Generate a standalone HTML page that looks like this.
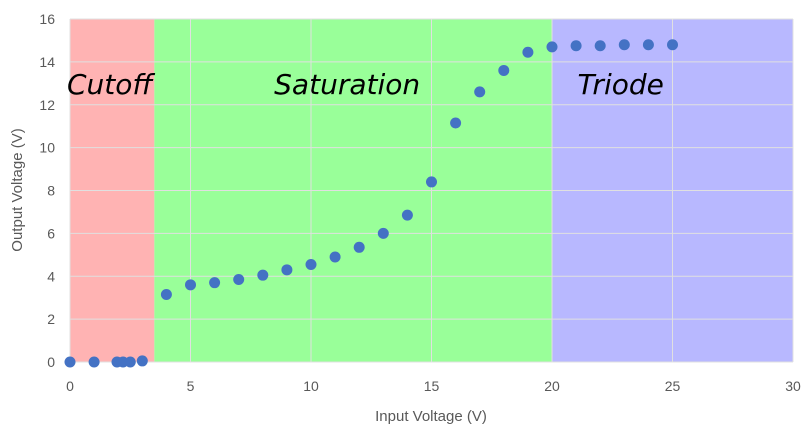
<!DOCTYPE html>
<html><head><meta charset="utf-8"><style>
body{margin:0;background:#fff;}
svg{display:block;font-family:"Liberation Sans",sans-serif;}
</style></head><body>
<svg id="chart" width="806" height="448"></svg>
<script>
const xData=[0,1,1.95,2.2,2.5,3,4,5,6,7,8,9,10,11,12,13,14,15,16,17,18,19,20,21,22,23,24,25];
const yData=[0,0,0,0,0,0.05,3.15,3.6,3.7,3.85,4.05,4.3,4.55,4.9,5.35,6,6.85,8.4,11.15,12.6,13.6,14.45,14.7,14.75,14.75,14.8,14.8,14.8];
const xTicks=[0,5,10,15,20,25,30];
const yTicks=[0,2,4,6,8,10,12,14,16];
const regionStarts=[0,3.5,20];
const regionEnds=[3.5,20,30];
const regionLabels=["Cutoff","Saturation","Triode"];
const regionLabelX=[1.65,11.5,22.85];
const regionColors=["#ffb3b3","#99ff99","#b8b8ff"];
const NS="http://www.w3.org/2000/svg";
const svg=document.getElementById('chart');
const X=v=>70+v*(793-70)/30;
const Y=v=>362-v*(362-19)/16;
function mk(t,a){const e=document.createElementNS(NS,t);for(const k in a)e.setAttribute(k,a[k]);svg.appendChild(e);return e;}
regionStarts.forEach((s,i)=>{
 const r=mk('rect',{x:X(s),y:Y(16),width:X(regionEnds[i])-X(s),height:Y(0)-Y(16),fill:regionColors[i]});
 
 
});
xTicks.forEach(t=>{
 const l=mk('line',{x1:X(t),x2:X(t),y1:Y(0),y2:Y(16),stroke:'#e0e0e0','stroke-width':1});
 
 
 const tx=mk('text',{x:X(t),y:391,'text-anchor':'middle','font-size':14,fill:'#595959'});tx.textContent=t;
 
 
});
yTicks.forEach(t=>{
 const l=mk('line',{x1:X(0),x2:X(30),y1:Y(t),y2:Y(t),stroke:'#e0e0e0','stroke-width':1});
 
 
 const tx=mk('text',{x:55,y:Y(t)+5,'text-anchor':'end','font-size':14,fill:'#595959'});tx.textContent=t;
 
 
});
regionLabels.forEach((s,i)=>{
 const tx=mk('text',{x:X(regionLabelX[i]),y:94,'text-anchor':'middle','font-size':28,'font-style':'italic',fill:'#000','font-family':'"DejaVu Sans",sans-serif'});tx.textContent=s;
 
 
});
xData.forEach((x,i)=>{
 const c=mk('circle',{cx:X(x),cy:Y(yData[i]),r:5.5,fill:'#4472c4'});
 
 
});
const xt=mk('text',{x:431,y:421,'text-anchor':'middle','font-size':15,fill:'#595959'});xt.textContent='Input Voltage (V)';


const yt=mk('text',{x:0,y:0,'text-anchor':'middle','font-size':15,fill:'#595959',transform:'translate(22,190) rotate(-90)'});yt.textContent='Output Voltage (V)';


</script>
</body></html>
